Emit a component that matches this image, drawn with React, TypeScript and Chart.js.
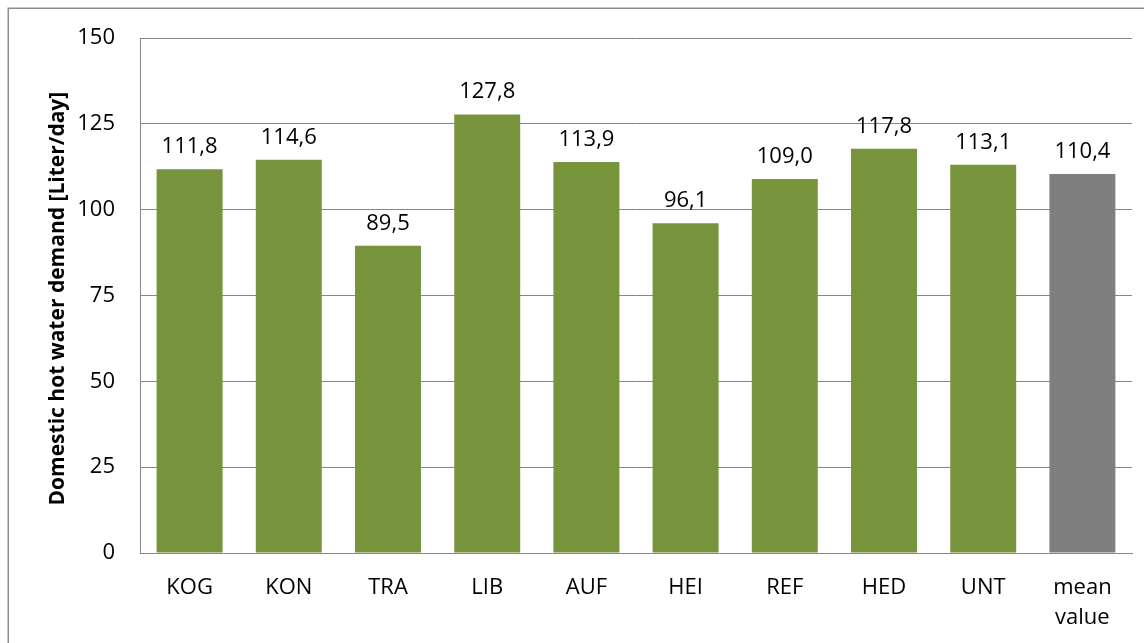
import React, { useEffect, useRef } from "react";
import { Chart, registerables } from "chart.js";

Chart.register(...registerables);

const categories = ["KOG", "KON", "TRA", "LIB", "AUF", "HEI", "REF", "HED", "UNT", "mean value"];
const values = [111.8, 114.6, 89.5, 127.8, 113.9, 96.1, 109.0, 117.8, 113.1, 110.4];
const yTicks = [0, 25, 50, 75, 100, 125, 150];
const yTitle = "Domestic hot water demand [Liter/day]";

const GREEN = "#77933C";
const GREY = "#7F7F7F";
const FONT = '"Open Sans", sans-serif';

const frameAndLabels = {
  id: "frameAndLabels",
  beforeDraw(chart: any) {
    const ctx = chart.ctx;
    ctx.save();
    ctx.strokeStyle = "#8c8c8c";
    ctx.lineWidth = 1.5;
    ctx.strokeRect(8.25, 8.25, 3000, 3000);
    ctx.restore();
  },
  afterDraw(chart: any) {
    const ctx = chart.ctx;
    const { top, bottom } = chart.chartArea;
    ctx.save();
    ctx.fillStyle = "#000";
    ctx.font = `bold 21px ${FONT}`;
    ctx.translate(58, (top + bottom) / 2 + 3);
    ctx.rotate(-Math.PI / 2);
    ctx.textAlign = "center";
    ctx.textBaseline = "middle";
    ctx.fillText(yTitle, 0, 0);
    ctx.restore();

    const meta = chart.getDatasetMeta(0);
    ctx.save();
    ctx.fillStyle = "#000";
    ctx.font = `22px ${FONT}`;
    ctx.textAlign = "center";
    ctx.textBaseline = "alphabetic";
    meta.data.forEach((bar: any, i: number) => {
      const txt = values[i].toFixed(1).replace(".", ",");
      ctx.fillText(txt, bar.x, bar.y - 16);
    });
    ctx.restore();
  },
};

export default function App() {
  const ref = useRef<HTMLCanvasElement | null>(null);
  useEffect(() => {
    if (!ref.current) return;
    const labels = categories.map((c) => (c.includes(" ") ? c.split(" ") : c));
    const colors = categories.map((c, i) => (i === categories.length - 1 ? GREY : GREEN));
    const chart = new Chart(ref.current, {
      type: "bar",
      data: {
        labels,
        datasets: [
          {
            data: values,
            backgroundColor: colors,
            borderWidth: 0,
            barPercentage: 0.665,
            categoryPercentage: 1.0,
          },
        ],
      },
      options: {
        animation: false,
        responsive: false,
        layout: { padding: { top: 36, right: 12, bottom: 0, left: 0 } },
        plugins: {
          legend: { display: false },
          tooltip: { enabled: false },
          title: { display: false },
        },
        scales: {
          x: {
            grid: { display: false, drawTicks: false },
            border: { display: true, color: "#868686", width: 1 },
            ticks: {
              color: "#000",
              font: { family: FONT, size: 22, lineHeight: 1.36 },
              padding: 20,
              maxRotation: 0,
              autoSkip: false,
            },
            afterFit: (s: any) => {
              s.height = 90;
            },
          },
          y: {
            min: 0,
            max: 150,
            afterBuildTicks: (s: any) => {
              s.ticks = yTicks.map((v) => ({ value: v }));
            },
            grid: { color: "#868686", lineWidth: 1, drawTicks: false },
            border: { display: true, color: "#868686", width: 1 },
            ticks: {
              color: "#000",
              font: { family: FONT, size: 22 },
              padding: 25,
            },
            afterFit: (s: any) => {
              s.width = 140;
            },
          },
        },
      },
      plugins: [frameAndLabels],
    });
    return () => chart.destroy();
  }, []);
  return (
    <div style={{ position: "absolute", left: 0, top: 0, width: 1144, height: 643, background: "#fff" }}>
      <canvas ref={ref} width={1144} height={643} style={{ display: "block" }} />
    </div>
  );
}
